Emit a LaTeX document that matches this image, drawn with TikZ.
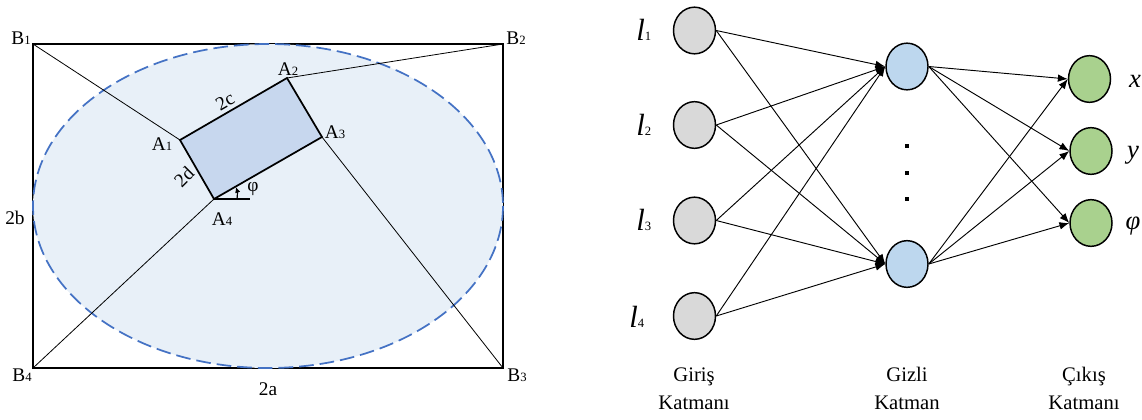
\documentclass[tikz,border=0pt]{standalone}
\usepackage{fontspec}
\setmainfont{Liberation Serif}
\usetikzlibrary{shapes.geometric,arrows.meta}
\definecolor{inputgray}{HTML}{D9D9D9}
\definecolor{hiddenblue}{HTML}{BDD7EE}
\definecolor{outputgreen}{HTML}{A9D18E}
\definecolor{ellipsefill}{HTML}{E8F0F8}
\definecolor{ellipseline}{HTML}{4472C4}
\definecolor{platefill}{HTML}{C7D7EE}
\newcommand{\sm}[1]{{\fontsize{9.5}{9.5}\selectfont #1}}
\begin{document}
\begin{tikzpicture}[x=0.75pt,y=-0.75pt,
  neuron/.style={draw,ellipse,line width=1.1pt,inner sep=0pt,minimum width=31.5pt,minimum height=35pt},
  arr/.style={-{Latex[length=2.6mm,width=2mm]},line width=0.7pt},
  wire/.style={line width=0.6pt},
  edgeline/.style={line width=1.3pt},
  lbl/.style={inner sep=0pt,font=\fontsize{14.5}{14.5}\selectfont},
  layerlbl/.style={inner sep=0pt,align=center,font=\fontsize{15.5}{21}\selectfont},
  varlbl/.style={inner sep=0pt,font=\fontsize{20}{20}\selectfont\itshape},
  dotmark/.style={fill=black,inner sep=0pt,minimum size=2.6pt}]
  \useasboundingbox (0,0) rectangle (1142,419);
  % frame
  \coordinate (b1) at (33,44);
  \coordinate (b2) at (503,44);
  \coordinate (b3) at (503,368);
  \coordinate (b4) at (33,368);
  \draw[edgeline] (b1) -- (b2) -- (b3) -- (b4) -- cycle;
  \draw[fill=ellipsefill,draw=ellipseline,line width=1.3pt,dash pattern=on 11pt off 4.5pt] (268,206) ellipse (235 and 162);
  % plate
  \coordinate (a1) at (180,140);
  \coordinate (a2) at (287,78);
  \coordinate (a3) at (322,137);
  \coordinate (a4) at (214,199);
  \draw[edgeline,fill=platefill] (a1) -- (a2) -- (a3) -- (a4) -- cycle;
  \draw[wire] (b1) -- (a1);
  \draw[wire] (b2) -- (a2);
  \draw[wire] (b3) -- (a3);
  \draw[wire] (b4) -- (a4);
  \coordinate (phiend) at (250,199);
  \draw[edgeline] (a4) -- (phiend);
  \draw[-{Latex[length=1.5mm,width=1.4mm]},line width=0.9pt] (237,199) to[bend right=12] (236,187);
  \node[lbl] (lb1) at (21,38) {B\sm{1}};
  \node[lbl] (lb2) at (516,38) {B\sm{2}};
  \node[lbl] (lb3) at (517,375) {B\sm{3}};
  \node[lbl] (lb4) at (22,375) {B\sm{4}};
  \node[lbl] (la1) at (162,144) {A\sm{1}};
  \node[lbl] (la2) at (288,69) {A\sm{2}};
  \node[lbl] (la3) at (335,132) {A\sm{3}};
  \node[lbl] (la4) at (222,219) {A\sm{4}};
  \node[lbl,rotate=30] (lc) at (225,101) {2c};
  \node[lbl,rotate=45] (ld) at (184,177) {2d};
  \node[lbl] (lphi) at (253,189) {φ};
  \node[lbl] (lwidth) at (268,389) {2a};
  \node[lbl] (lheight) at (15,218) {2b};
  % network
  \node[neuron,fill=inputgray] (i1) at (694.5,30.5) {};
  \node[neuron,fill=inputgray] (i2) at (694.5,125) {};
  \node[neuron,fill=inputgray] (i3) at (694.5,220.5) {};
  \node[neuron,fill=inputgray] (i4) at (694.5,316) {};
  \node[neuron,fill=hiddenblue] (h1) at (907,66.5) {};
  \node[neuron,fill=hiddenblue] (h2) at (907,264) {};
  \node[neuron,fill=outputgreen] (o1) at (1089.5,79) {};
  \node[neuron,fill=outputgreen] (o2) at (1091,151) {};
  \node[neuron,fill=outputgreen] (o3) at (1091,223) {};
  \draw[arr] (i1.east) -- (h1.west);
  \draw[arr] (i1.east) -- (h2.west);
  \draw[arr] (i2.east) -- (h1.west);
  \draw[arr] (i2.east) -- (h2.west);
  \draw[arr] (i3.east) -- (h1.west);
  \draw[arr] (i3.east) -- (h2.west);
  \draw[arr] (i4.east) -- (h1.west);
  \draw[arr] (i4.east) -- (h2.west);
  \draw[arr] (h1.east) -- (o1.west);
  \draw[arr] (h1.east) -- (o2.west);
  \draw[arr] (h1.east) -- (o3.west);
  \draw[arr] (h2.east) -- (o1.west);
  \draw[arr] (h2.east) -- (o2.west);
  \draw[arr] (h2.east) -- (o3.west);
  \node[dotmark] (dot1) at (907,146) {};
  \node[dotmark] (dot2) at (907,173) {};
  \node[dotmark] (dot3) at (907,199) {};
  \node[varlbl,anchor=base west] (l1) at (636,40) {\fontsize{23}{23}\selectfont l\sm{\upshape 1}};
  \node[varlbl,anchor=base west] (l2) at (636,135) {\fontsize{23}{23}\selectfont l\sm{\upshape 2}};
  \node[varlbl,anchor=base west] (l3) at (636,230) {\fontsize{23}{23}\selectfont l\sm{\upshape 3}};
  \node[varlbl,anchor=base west] (l4) at (629,327) {\fontsize{23}{23}\selectfont l\sm{\upshape 4}};
  \node[varlbl] (vx) at (1135,81) {x};
  \node[varlbl] (vy) at (1133,155) {y};
  \node[varlbl] (vphi) at (1133,226) {φ};
  \node[layerlbl] (giris) at (694,389) {Giriş\\Katmanı};
  \node[layerlbl] (gizli) at (907,388) {Gizli\\Katman};
  \node[layerlbl] (cikis) at (1084,388) {Çıkış\\Katmanı};
\end{tikzpicture}
\end{document}
